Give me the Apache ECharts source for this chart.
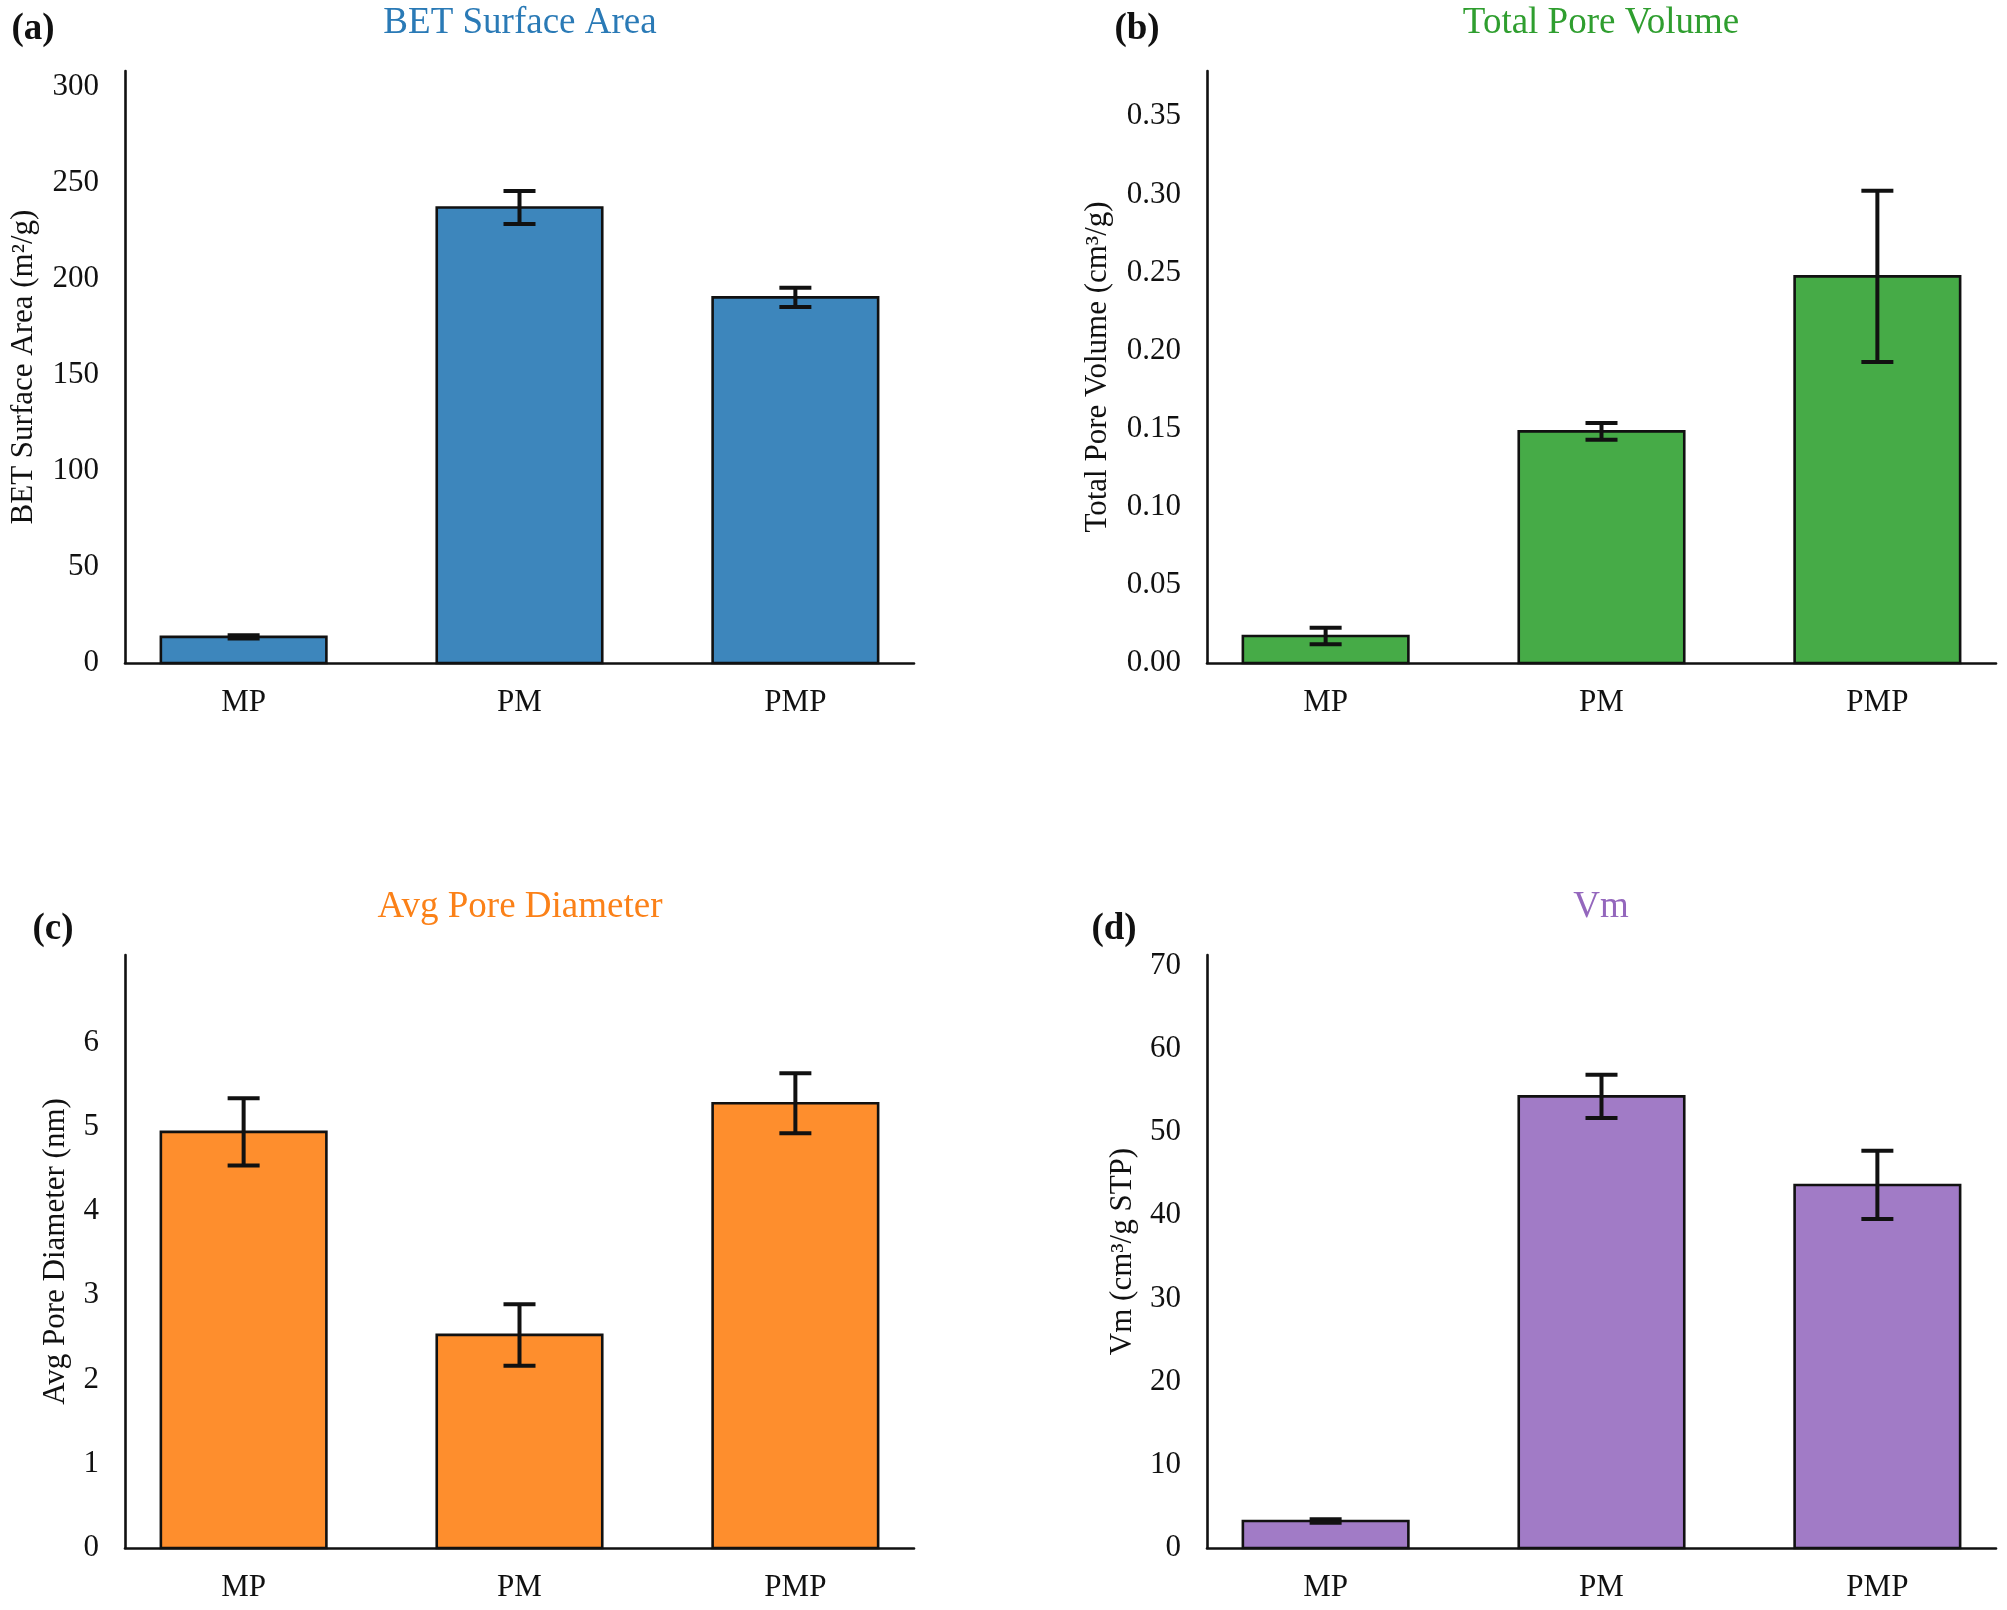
<!DOCTYPE html>
<html>
<head>
<meta charset="utf-8">
<script src="https://cdn.jsdelivr.net/npm/echarts@6/dist/echarts.min.js"></script>
<style>
html,body{margin:0;padding:0;background:#fff;}
#chart{width:2007px;height:1610px;}
</style>
</head>
<body>
<div id="chart"></div>
<script>
// ---- data ----
const categories = ['MP', 'PM', 'PMP'];

const betValues = [13.6, 237.0, 190.2];
const betErrors = [0.8, 8.6, 5.0];
const betTicks = [0, 50, 100, 150, 200, 250, 300];
const betMax = 308;

const volValues = [0.0173, 0.1483, 0.2475];
const volErrors = [0.0053, 0.0054, 0.0548];
const volTicks = [0.00, 0.05, 0.10, 0.15, 0.20, 0.25, 0.30, 0.35];
const volMax = 0.379;

const diaValues = [4.94, 2.53, 5.28];
const diaErrors = [0.40, 0.365, 0.355];
const diaTicks = [0, 1, 2, 3, 4, 5, 6];
const diaMax = 7.04;

const vmValues = [3.25, 54.3, 43.65];
const vmErrors = [0.2, 2.6, 4.1];
const vmTicks = [0, 10, 20, 30, 40, 50, 60, 70];
const vmMax = 71.3;

const catIndex = [0, 1, 2];

// ---- style ----
const FONT = '"Liberation Serif", "Times New Roman", serif';
const INK = '#111111';
const BAR_HALF = 0.3;
const CAP = 16;

function makeRender(color) {
  return function (params, api) {
    const i = api.value(0), v = api.value(1), e = api.value(2);
    const tl = api.coord([i - BAR_HALF, v]);
    const br = api.coord([i + BAR_HALF, 0]);
    const hi = api.coord([i, v + e]);
    const lo = api.coord([i, v - e]);
    const cx = hi[0];
    return {
      type: 'group',
      children: [
        { type: 'rect', shape: { x: tl[0], y: tl[1], width: br[0] - tl[0], height: br[1] - tl[1] },
          style: { fill: color, stroke: INK, lineWidth: 2.6 } },
        { type: 'line', shape: { x1: cx, y1: hi[1], x2: cx, y2: lo[1] }, style: { stroke: INK, lineWidth: 4 } },
        { type: 'line', shape: { x1: cx - CAP, y1: hi[1], x2: cx + CAP, y2: hi[1] }, style: { stroke: INK, lineWidth: 4 } },
        { type: 'line', shape: { x1: cx - CAP, y1: lo[1], x2: cx + CAP, y2: lo[1] }, style: { stroke: INK, lineWidth: 4 } }
      ]
    };
  };
}

const panels = [
  { vals: betValues, errs: betErrors, ticks: betTicks, max: betMax, color: '#3d86bc', title: 'BET Surface Area', titleColor: '#2a7ab6',
    name: 'BET Surface Area (m²/g)', nameGap: 86, fmt: v => String(v), grid: { left: 125, top: 71, width: 789, height: 592 },
    tag: '(a)', tagX: 33, tagY: 29, titleX: 520, titleY: 23 },
  { vals: volValues, errs: volErrors, ticks: volTicks, max: volMax, color: '#46ab47', title: 'Total Pore Volume', titleColor: '#2f9e2f',
    name: 'Total Pore Volume (cm³/g)', nameGap: 94, fmt: v => v.toFixed(2), grid: { left: 1207, top: 71, width: 789, height: 592 },
    tag: '(b)', tagX: 1137, tagY: 29, titleX: 1601, titleY: 23 },
  { vals: diaValues, errs: diaErrors, ticks: diaTicks, max: diaMax, color: '#fe8e2d', title: 'Avg Pore Diameter', titleColor: '#fb8118',
    name: 'Avg Pore Diameter (nm)', nameGap: 54, fmt: v => String(v), grid: { left: 125, top: 955, width: 789, height: 593 },
    tag: '(c)', tagX: 53, tagY: 929, titleX: 520, titleY: 907 },
  { vals: vmValues, errs: vmErrors, ticks: vmTicks, max: vmMax, color: '#a17bc6', title: 'Vm', titleColor: '#9467bd',
    name: 'Vm (cm³/g STP)', nameGap: 69, fmt: v => String(v), grid: { left: 1207, top: 955, width: 789, height: 593 },
    tag: '(d)', tagX: 1114, tagY: 929, titleX: 1601, titleY: 907 }
];

const option = {
  backgroundColor: '#ffffff',
  animation: false,
  grid: panels.map(p => Object.assign({ containLabel: false, outerBoundsMode: 'none' }, p.grid)),
  xAxis: panels.map((p, k) => ({
    type: 'value', gridIndex: k, min: -0.43, max: 2.43,
    axisLine: { show: true, onZero: true, lineStyle: { color: INK, width: 2.6 } },
    axisTick: { show: false },
    splitLine: { show: false },
    axisLabel: { show: true, customValues: catIndex, formatter: v => categories[Math.round(v)] || '',
      fontFamily: FONT, fontSize: 31, color: INK, margin: 24 }
  })),
  yAxis: panels.map((p, k) => ({
    type: 'value', gridIndex: k, min: 0, max: p.max,
    name: p.name, nameLocation: 'middle', nameGap: p.nameGap,
    nameTextStyle: { fontFamily: FONT, fontSize: 31, color: INK },
    axisLine: { show: true, onZero: false, lineStyle: { color: INK, width: 2.6 } },
    axisTick: { show: false },
    splitLine: { show: false },
    axisLabel: { show: true, customValues: p.ticks, formatter: p.fmt,
      fontFamily: FONT, fontSize: 31, color: INK, margin: 26 }
  })),
  series: panels.map((p, k) => ({
    type: 'custom', xAxisIndex: k, yAxisIndex: k,
    renderItem: makeRender(p.color),
    encode: { x: 0, y: 1 },
    data: p.vals.map((v, i) => [catIndex[i], v, p.errs[i]])
  })),
  graphic: [].concat(
    panels.map(p => ({ type: 'text', x: p.titleX, y: p.titleY,
      style: { text: p.title, fill: p.titleColor, font: '37px ' + FONT, align: 'center', verticalAlign: 'middle' } })),
    panels.map(p => ({ type: 'text', x: p.tagX, y: p.tagY,
      style: { text: p.tag, fill: INK, font: 'bold 37px ' + FONT, align: 'center', verticalAlign: 'middle' } }))
  )
};

const chart = echarts.init(document.getElementById('chart'), null, { renderer: 'canvas' });
chart.setOption(option);
</script>
</body>
</html>
